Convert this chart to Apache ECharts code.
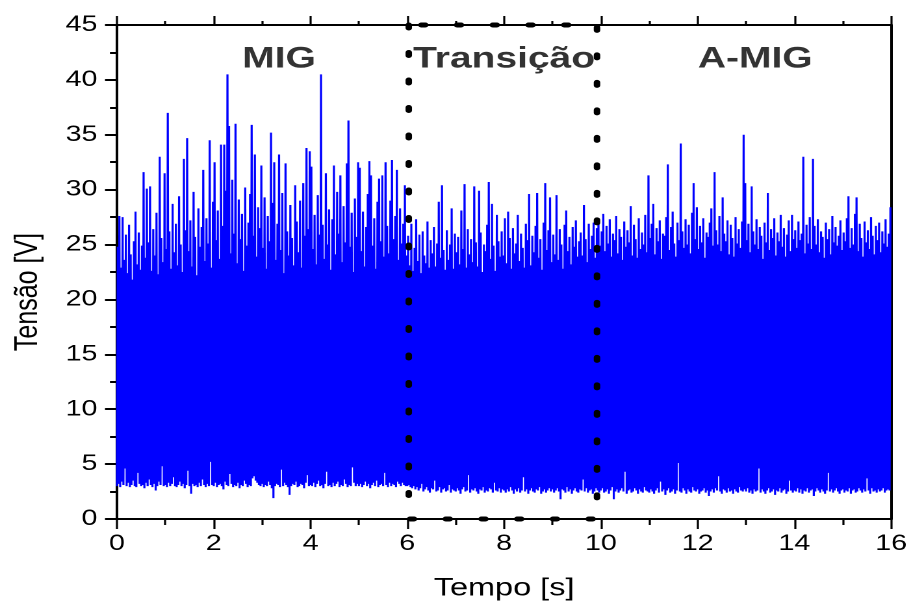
<!DOCTYPE html>
<html><head><meta charset="utf-8">
<script src="https://cdn.jsdelivr.net/npm/echarts@6/dist/echarts.min.js"></script>
<style>
html,body{margin:0;padding:0;width:911px;height:606px;overflow:hidden;background:#fff;}
#chart{width:701px;height:606px;transform:scaleX(1.29957);transform-origin:0 0;}
</style></head><body><div id="chart"></div>
<script>
// Sampling period of the digitised signal (one short-circuit cycle), seconds
const cycleSeconds = 1 / 30;

// Peak (re-ignition) voltage of each cycle [V], one row per second
const peaks = [
 24.8,27.6,22.9,27.5,23.6,25.9,22.4,26.8,24.1,21.8, 25.3,28.0,23.2,26.1,22.7,24.9,31.6,23.8,30.1,25.2, 30.3,22.6,26.4,24.0,27.9,22.3,33.0,25.6,23.4,31.5,
 24.6,37.0,26.2,22.8,28.7,24.3,26.9,23.1,29.4,25.0, 22.5,32.8,26.3,34.7,24.4,27.2,23.0,29.8,25.7,22.2, 28.3,24.8,26.6,31.8,23.5,27.4,25.1,34.5,22.9,28.9,
 32.5,25.4,28.1,23.7,34.1,26.7,34.1,29.9,40.5,35.8, 24.2,30.9,26.0,36.0,23.3,29.1,25.5,27.8,22.6,30.2, 24.9,27.0,29.6,35.9,25.8,33.2,23.9,28.4,26.5,32.2,
 24.7,29.3,22.8,27.6,25.3,35.2,28.8,32.5,23.6,26.9, 33.2,24.5,29.7,22.4,32.4,26.2,24.0,28.6,25.6,23.1, 30.4,27.1,24.3,29.0,22.9,30.6,25.8,33.8,26.4,33.5,
 32.1,24.6,27.7,23.2,29.5,25.9,40.5,26.8,23.7,31.5, 25.0,28.2,22.7,27.3,32.2,24.1,29.8,26.0,31.3,23.4, 28.5,25.2,32.4,36.3,24.8,27.9,22.5,29.2,25.7,32.5,
 32.0,24.4,28.0,23.0,26.6,29.6,32.6,31.3,24.9,27.4, 22.8,28.9,31.0,25.3,31.3,23.9,32.5,26.7,24.2,29.0, 32.7,25.5,27.6,31.8,23.6,28.3,25.1,26.9,30.4,24.0,
 25.8,23.1,26.9,22.6,24.7,27.3,23.5,25.9,22.4,26.2, 24.0,23.3,27.1,22.9,25.4,24.2,26.6,23.0,25.1,28.9, 23.8,30.4,24.5,22.7,26.3,23.6,25.0,28.3,22.8,26.0,
 24.3,25.7,23.2,28.1,24.6,30.5,22.9,26.4,24.1,25.5, 23.4,30.3,25.2,23.0,29.9,26.1,22.5,25.0,24.4,26.8, 30.7,23.7,28.7,24.9,22.6,27.7,25.3,23.9,26.2,24.0,
 27.4,23.3,28.0,25.6,22.8,26.5,24.2,25.1,27.7,23.5, 26.0,24.7,22.9,26.9,25.4,29.6,23.1,25.8,24.3,26.7, 29.7,23.8,25.5,22.7,27.0,30.6,24.5,26.3,29.3,23.4,
 25.9,24.1,29.5,23.6,26.4,25.0,22.8,26.8,28.1,24.4, 25.7,23.2,26.6,24.8,27.2,23.9,25.3,26.1,24.0,28.6, 25.5,23.4,26.9,24.6,25.8,27.0,23.8,26.5,27.4,24.9,
 26.2,27.8,24.4,26.7,25.1,27.3,23.9,26.0,25.4,27.6, 24.2,26.4,25.7,23.6,27.1,24.8,26.3,25.2,28.5,24.0, 26.8,25.5,23.8,27.4,24.6,26.1,25.0,27.7,24.3,31.3,
 25.6,26.9,28.7,24.1,26.5,25.3,27.2,23.7,26.0,25.8, 27.5,32.3,24.5,26.6,28.0,25.1,23.9,27.0,25.4,34.2, 26.2,24.7,27.3,25.0,26.8,24.2,27.9,30.6,25.5,28.4,
 24.6,26.7,25.2,27.4,23.8,26.1,25.7,27.0,28.3,24.9, 31.6,26.3,25.0,27.6,24.4,29.3,26.0,25.3,27.2,24.1, 26.8,25.6,23.9,27.5,25.1,26.4,24.7,27.1,35.0,30.6,
 25.4,26.9,24.3,30.3,26.2,25.0,27.3,24.6,26.6,25.8, 23.7,27.0,25.2,29.7,24.5,26.4,25.6,27.4,24.0,26.1, 25.3,27.7,24.8,26.5,23.9,25.9,27.2,24.4,27.7,25.5,
 26.3,24.7,27.1,25.4,26.0,33.0,24.2,26.8,25.1,27.5, 24.6,32.8,26.7,25.0,27.3,24.3,26.2,25.7,23.8,27.0, 25.5,26.4,24.1,27.6,25.2,26.6,24.9,25.8,27.2,24.5,
 26.1,25.3,27.4,29.4,24.7,26.5,25.0,27.8,29.3,24.4, 26.9,25.6,23.9,27.1,25.2,26.3,24.6,27.5,25.8,24.1, 26.7,25.4,27.0,24.3,26.2,25.1,27.3,24.8,26.0,28.4
];

// Short-circuit (minimum) voltage of each cycle [V]
const lows = [
 3.0,3.2,2.9,3.4,3.1,4.6,3.0,3.3,2.9,3.1, 3.5,3.0,2.9,4.2,3.2,3.0,3.1,2.8,3.3,3.0, 3.6,3.1,2.9,3.2,2.6,3.0,3.4,3.1,4.8,3.0,
 3.1,2.9,3.3,3.0,3.2,3.8,3.0,2.9,3.1,3.4, 3.0,3.2,2.8,3.1,4.4,3.0,2.3,3.2,3.0,3.1, 2.9,3.3,3.0,3.6,3.1,2.9,3.2,3.0,5.2,3.1,
 3.0,3.3,2.9,3.1,3.2,3.0,2.7,3.4,3.1,3.0, 4.1,3.2,2.9,3.1,3.0,3.3,2.8,3.1,3.0,3.5, 3.2,2.9,3.1,3.0,3.7,3.9,3.5,3.3,3.1,3.0,
 3.2,2.9,3.1,3.0,3.4,3.1,2.8,1.9,3.0,3.2, 3.1,2.9,4.5,3.0,3.3,3.1,2.9,2.2,3.0,3.2, 3.1,3.4,2.9,3.0,3.2,3.1,2.8,3.3,4.0,3.0,
 3.1,3.0,3.3,2.9,3.2,3.5,3.0,3.1,2.8,3.2, 4.3,3.0,3.1,2.9,3.3,3.0,3.2,3.4,2.9,3.1, 3.0,3.6,3.2,2.9,3.1,3.0,4.7,3.3,3.0,3.2,
 3.0,3.2,2.9,3.1,3.4,3.0,3.2,2.8,3.1,3.3, 3.0,3.5,2.9,3.1,3.2,3.0,4.2,3.1,2.9,3.3, 3.0,3.2,3.1,2.9,3.4,3.2,3.0,3.3,3.1,3.0,
 3.0,3.1,2.9,2.8,3.0,2.7,2.9,2.6,2.8,3.2, 2.5,2.7,2.9,2.6,2.4,2.8,2.7,3.5,2.5,2.6, 2.9,2.4,2.7,2.8,2.5,2.6,3.1,2.4,2.7,2.6,
 2.5,2.8,2.6,2.3,2.7,2.9,2.5,2.6,4.0,2.4, 2.7,2.6,2.8,2.5,2.3,2.7,2.6,2.9,2.4,2.6, 2.5,2.8,2.7,2.4,3.3,2.6,2.5,2.8,2.4,2.7,
 2.6,2.4,2.7,2.5,2.9,2.6,2.3,2.7,2.5,2.8, 2.4,2.6,3.8,2.5,2.7,2.3,2.6,2.8,2.5,2.4, 2.7,2.6,2.9,2.3,2.5,2.7,2.4,2.6,2.8,2.5,
 2.7,2.4,2.6,2.8,2.5,1.8,2.7,2.6,2.4,2.9, 2.5,2.7,2.3,2.6,2.8,2.5,2.4,2.7,2.6,3.6, 2.5,2.8,2.4,2.6,2.7,2.3,2.5,2.8,2.6,2.4,
 2.6,2.8,2.4,2.5,2.7,2.3,2.6,2.9,1.8,2.5, 2.7,2.4,2.6,2.8,2.5,4.3,2.3,2.6,2.7,2.4, 2.5,2.8,2.6,2.3,2.7,2.5,2.4,2.9,2.6,2.5,
 2.4,2.7,2.5,2.3,2.6,2.8,2.4,3.4,2.5,2.7, 2.2,2.6,2.8,2.4,2.5,2.7,2.3,2.6,5.1,2.5, 2.4,2.8,2.6,2.3,2.7,2.5,2.4,2.9,2.6,2.5,
 2.7,2.3,2.5,2.6,2.8,2.4,2.6,2.1,2.5,2.7, 2.4,2.8,2.6,3.9,2.5,2.3,2.7,2.6,2.4,2.8, 2.5,2.6,2.3,2.7,2.5,2.4,2.9,2.6,2.5,2.7,
 2.5,2.8,2.4,2.6,2.3,2.7,2.5,2.6,4.6,2.4, 2.7,2.5,2.3,2.6,2.8,2.4,2.5,2.7,2.2,2.6, 2.5,2.8,2.4,2.6,2.7,2.3,2.5,3.5,2.6,2.4,
 2.6,2.5,2.8,2.4,2.7,2.3,2.6,2.5,2.8,2.4, 2.6,2.7,2.1,2.5,2.8,2.6,2.4,2.7,2.5,2.3, 2.6,4.2,2.5,2.7,2.4,2.6,2.8,2.5,2.3,2.6,
 2.7,2.4,2.6,2.5,2.8,2.3,2.6,2.7,2.4,2.5, 2.8,2.6,2.4,2.7,2.5,3.7,2.6,2.3,2.8,2.5, 2.6,2.4,2.7,2.5,2.6,2.8,2.4,2.6,2.7,2.6
];

// Transition window (dotted box): time limits [s] and voltage limits [V]
const boxTime = [6.03, 6.03, 9.92, 9.92, 6.03];
const boxVolt = [45, 0, 0, 45, 45];

// Region annotations
const regionNames = ['MIG', 'Transição', 'A-MIG'];
const regionTime = [3.35, 8.0, 13.19];
const regionVolt = [41.9, 41.9, 41.9];

// Axes
const xTicks = { min: 0, max: 16, interval: 2 };
const yTicks = { min: 0, max: 45, interval: 5 };

const signal = [];
for (let k = 0; k < peaks.length; k++) {
  signal.push([k * cycleSeconds, lows[k]]);
  signal.push([k * cycleSeconds + cycleSeconds / 2, peaks[k]]);
}
const box = boxTime.map((t, i) => [t, boxVolt[i]]);
const regions = regionNames.map((n, i) => ({ name: n, value: [regionTime[i], regionVolt[i]] }));

const FONT = '"Liberation Sans", Arial, sans-serif';
const BLACK = '#000';
const chart = echarts.init(document.getElementById('chart'), null, { renderer: 'canvas', devicePixelRatio: 2 });

chart.setOption({
  animation: false,
  backgroundColor: '#fff',
  grid: { left: 90, right: 13.9, top: 25, bottom: 86, containLabel: false },
  xAxis: [
    {
      type: 'value', position: 'bottom', min: xTicks.min, max: xTicks.max, interval: xTicks.interval,
      axisLine: { show: true, onZero: false, lineStyle: { color: BLACK, width: 2 } },
      axisTick: { show: true, inside: false, length: 10, lineStyle: { color: BLACK, width: 1.6 } },
      minorTick: { show: true, splitNumber: 2, length: 6, lineStyle: { color: BLACK, width: 1.6 } },
      axisLabel: { margin: 14, fontSize: 22, color: BLACK, fontFamily: FONT },
      splitLine: { show: false }, minorSplitLine: { show: false },
      name: 'Tempo [s]', nameLocation: 'middle', nameGap: 57,
      nameTextStyle: { fontSize: 25, color: BLACK, fontFamily: FONT }
    },
    {
      type: 'value', position: 'top', min: xTicks.min, max: xTicks.max, interval: xTicks.interval,
      axisLine: { show: true, onZero: false, lineStyle: { color: BLACK, width: 2 } },
      axisTick: { show: true, inside: false, length: 9, lineStyle: { color: BLACK, width: 1.6 } },
      minorTick: { show: true, splitNumber: 2, length: 4, lineStyle: { color: BLACK, width: 1.6 } },
      axisLabel: { show: false },
      splitLine: { show: false }, minorSplitLine: { show: false }
    }
  ],
  yAxis: [
    {
      type: 'value', position: 'left', min: yTicks.min, max: yTicks.max, interval: yTicks.interval,
      axisLine: { show: true, onZero: false, lineStyle: { color: BLACK, width: 2 } },
      axisTick: { show: true, inside: false, length: 9.2, lineStyle: { color: BLACK, width: 2 } },
      minorTick: { show: true, splitNumber: 2, length: 5.4, lineStyle: { color: BLACK, width: 2 } },
      axisLabel: { margin: 15, fontSize: 22, color: BLACK, fontFamily: FONT },
      splitLine: { show: false }, minorSplitLine: { show: false },
      name: 'Tensão [V]', nameLocation: 'middle', nameGap: 56,
      nameTextStyle: { fontSize: 25, color: BLACK, fontFamily: FONT, padding: [0, 40, 0, 0] }
    },
    {
      type: 'value', position: 'right', min: yTicks.min, max: yTicks.max, interval: yTicks.interval,
      axisLine: { show: true, onZero: false, lineStyle: { color: BLACK, width: 2 } },
      axisTick: { show: false }, axisLabel: { show: false },
      splitLine: { show: false }
    }
  ],
  series: [
    {
      type: 'line', data: signal, xAxisIndex: 0, yAxisIndex: 0,
      symbol: 'none', showSymbol: false, silent: true, z: 2,
      lineStyle: { color: '#0000ff', width: 1.6 }, itemStyle: { color: '#0000ff' }
    },
    {
      type: 'line', data: box, xAxisIndex: 0, yAxisIndex: 0,
      symbol: 'none', showSymbol: false, silent: true, clip: false, z: 5,
      lineStyle: { color: BLACK, width: 5, type: [3, 24.5], cap: 'round' }
    },
    {
      type: 'scatter', data: regions, xAxisIndex: 0, yAxisIndex: 0,
      symbolSize: 0, silent: true, z: 6,
      label: { show: true, position: 'inside', formatter: p => p.name,
               fontSize: 30, fontWeight: 'bold', color: BLACK, fontFamily: FONT }
    }
  ]
});
</script></body></html>
